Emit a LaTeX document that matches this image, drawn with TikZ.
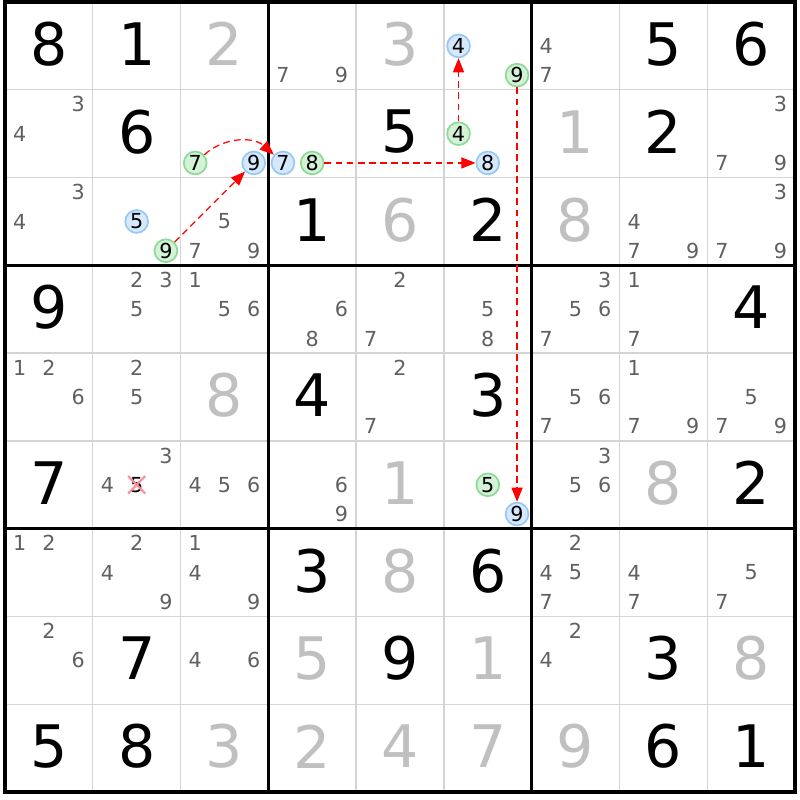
\documentclass[tikz,border=0pt]{standalone}
\usepackage{fontspec}
\setmainfont{DejaVu Sans}
\usetikzlibrary{arrows.meta}
\usetikzlibrary{shapes.misc}
\definecolor{thingrid}{RGB}{212,212,212}
\definecolor{candgray}{RGB}{96,96,96}
\definecolor{solvedgray}{RGB}{192,192,192}
\definecolor{bluefill}{RGB}{214,233,252}
\definecolor{blueline}{RGB}{150,200,245}
\definecolor{greenfill}{RGB}{212,242,214}
\definecolor{greenline}{RGB}{140,218,150}
\definecolor{crossred}{RGB}{255,140,150}
\tikzset{given/.style = {inner sep = 0, font = \fontsize{19}{19}\selectfont, yshift = 0.02cm}}
\tikzset{solved/.style = {given, text = solvedgray}}
\tikzset{cand/.style = {inner sep = 0, font = \fontsize{6.7}{7}\selectfont, text = candgray}}
\tikzset{bluecand/.style = {cand, text = black, circle, draw = blueline, fill = bluefill,
                            line width = 0.55pt, minimum size = 0.26cm}}
\tikzset{greencand/.style = {bluecand, draw = greenline, fill = greenfill}}
\tikzset{link/.style = {red, line width = 0.4pt, dash pattern = on 2.2pt off 1.4pt,
                        -{Triangle[length = 4.6pt, width = 3.6pt]}}}
\begin{document}
\begin{tikzpicture}[x = 1cm, y = -1cm]
      \fill [white] (-0.057, -0.023) rectangle (9.057, 9.091);
      \foreach \i in {1, 2, 4, 5, 7, 8} {
        \draw [thingrid, line width = 0.45pt] (\i, 0) -- (\i, 9);
        \draw [thingrid, line width = 0.45pt] (0, \i) -- (9, \i);
      }
      \foreach \i in {3, 6} {
        \draw [line width = 1pt] (\i, 0) -- (\i, 9);
        \draw [line width = 1pt] (0, \i) -- (9, \i);
      }
      \draw [line width = 1pt] (0, 0) rectangle (9, 9);

      \foreach \c/\r/\d in {0/0/8, 1/0/1, 7/0/5, 8/0/6, 1/1/6, 4/1/5, 7/1/2, 3/2/1, 5/2/2,
                            0/3/9, 8/3/4, 3/4/4, 5/4/3, 0/5/7, 8/5/2, 3/6/3, 5/6/6,
                            1/7/7, 4/7/9, 7/7/3, 0/8/5, 1/8/8, 7/8/6, 8/8/1}
        \node [given] (v-\r-\c) at (\c + 0.5, \r + 0.5) {\d};
      \foreach \c/\r/\d in {2/0/2, 4/0/3, 6/1/1, 4/2/6, 6/2/8, 2/4/8, 4/5/1, 7/5/8, 4/6/8,
                            3/7/5, 5/7/1, 8/7/8, 2/8/3, 3/8/2, 4/8/4, 5/8/7, 6/8/9}
        \node [solved] (v-\r-\c) at (\c + 0.5, \r + 0.5) {\d};

      \foreach \c/\r/\ds in {3/0/{7,9}, 6/0/{4,7}, 0/1/{3,4}, 8/1/{3,7,9},
                             0/2/{3,4}, 2/2/{5,7,9}, 7/2/{4,7,9}, 8/2/{3,7,9},
                             1/3/{2,3,5}, 2/3/{1,5,6}, 3/3/{6,8}, 4/3/{2,7}, 5/3/{5,8},
                             6/3/{3,5,6,7}, 7/3/{1,7},
                             0/4/{1,2,6}, 1/4/{2,5}, 4/4/{2,7}, 6/4/{5,6,7}, 7/4/{1,7,9}, 8/4/{5,7,9},
                             1/5/{3,4}, 2/5/{4,5,6}, 3/5/{6,9}, 6/5/{3,5,6},
                             0/6/{1,2}, 1/6/{2,4,9}, 2/6/{1,4,9}, 6/6/{2,4,5,7}, 7/6/{4,7}, 8/6/{5,7},
                             0/7/{2,6}, 2/7/{4,6}, 6/7/{2,4}}
        \foreach \d in \ds
          \node [cand] (c-\r-\c-\d) at ({\c + (2*mod(\d-1,3)+1)/6}, {\r + (2*int((\d-1)/3)+1)/6}) {\d};

      \node [cand, text = black, cross out, draw = crossred, line width = 0.7pt,
             minimum width = 0.17cm, minimum height = 0.17cm] (x5) at (1.5, 5.5) {5};

      \node [bluecand] (b4) at (5.1667, 0.5) {4};
      \node [greencand] (g9b) at (5.8333, 0.8333) {9};
      \node [greencand] (g7) at (2.1667, 1.8333) {7};
      \node [bluecand] (b9) at (2.8333, 1.8333) {9};
      \node [bluecand] (b7) at (3.1667, 1.8333) {7};
      \node [greencand] (g8) at (3.5, 1.8333) {8};
      \node [greencand] (g4) at (5.1667, 1.5) {4};
      \node [bluecand] (b8) at (5.5, 1.8333) {8};
      \node [bluecand] (b5) at (1.5, 2.5) {5};
      \node [greencand] (g9) at (1.8333, 2.8333) {9};
      \node [greencand] (g5) at (5.5, 5.5) {5};
      \node [bluecand] (b9b) at (5.8333, 5.8333) {9};

      \draw [link] (g9) -- (b9);
      \draw [link] (g7) to [bend left = 42] (b7);
      \draw [link] (g8) -- (b8);
      \draw [link] (g4) -- (b4);
      \draw [link] (g9b) -- (b9b);
    \end{tikzpicture}
\end{document}
